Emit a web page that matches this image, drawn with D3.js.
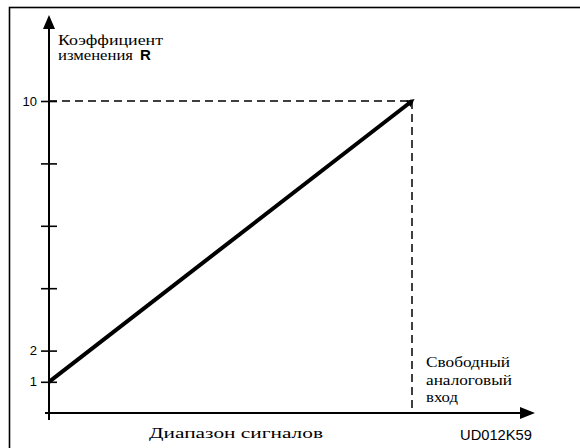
<!DOCTYPE html>
<html>
<head>
<meta charset="utf-8">
<script src="https://cdn.jsdelivr.net/npm/d3@7"></script>
<style>
  body { margin: 0; background: #fff; }
  svg { display: block; }
</style>
</head>
<body>
<div id="chart"></div>
<script>
// data
const signal = [0, 1];          // диапазон сигналов (отн.)
const ratio = [1, 10];          // коэффициент изменения R
const yTicks = [1, 2, 4, 6, 8, 10];
const yTickLabels = {1: "1", 2: "2", 10: "10"};

const width = 580, height = 448;
const serif = "'Liberation Serif', 'DejaVu Serif', serif";
const sans = "'Liberation Sans', Arial, sans-serif";

const svg = d3.select("#chart").append("svg")
  .attr("width", width)
  .attr("height", height);

// frame (right and bottom edges are cut off)
svg.append("rect")
  .attr("x", 9.5).attr("y", 7.5)
  .attr("width", 620).attr("height", 480)
  .attr("fill", "none").attr("stroke", "#000").attr("stroke-width", 1.6);

const x = d3.scaleLinear().domain([0, 1]).range([49, 412]);
const y = d3.scaleLinear().domain([0, 10]).range([413, 101]);

const defs = svg.append("defs");
defs.append("marker")
  .attr("id", "tip")
  .attr("viewBox", "0 0 10 10")
  .attr("refX", 6).attr("refY", 5)
  .attr("markerWidth", 2).attr("markerHeight", 2)
  .attr("markerUnits", "strokeWidth")
  .attr("orient", "auto")
  .append("path").attr("d", "M0,0L10,5L0,10z").attr("fill", "#000");

// dashed guides
svg.append("line")
  .attr("x1", x(0)).attr("x2", x(1))
  .attr("y1", y(10)).attr("y2", y(10))
  .attr("stroke", "#000").attr("stroke-width", 1.5)
  .attr("stroke-dasharray", "8,5");
svg.append("line")
  .attr("x1", x(1)).attr("x2", x(1))
  .attr("y1", y(10)).attr("y2", y(0))
  .attr("stroke", "#000").attr("stroke-width", 1.5)
  .attr("stroke-dasharray", "8,5");

// y axis
const yAxis = d3.axisLeft(y)
  .tickValues(yTicks)
  .tickSize(16)
  .tickFormat(d => yTickLabels[d] || "");
const gy = svg.append("g")
  .attr("transform", `translate(${x(0)},0)`)
  .call(yAxis);
gy.select(".domain").remove();
gy.selectAll(".tick line")
  .attr("x1", 8).attr("x2", -8)
  .attr("stroke", "#000").attr("stroke-width", 1.6);
gy.selectAll(".tick text")
  .attr("x", -12)
  .style("font-family", sans)
  .style("font-size", "13px")
  .attr("fill", "#000");

// axis lines with arrows
svg.append("line")
  .attr("x1", x(0)).attr("x2", x(0))
  .attr("y1", 420).attr("y2", 28)
  .attr("stroke", "#000").attr("stroke-width", 2);
svg.append("path")
  .attr("d", `M${x(0)},15L${x(0) - 6},29L${x(0) + 6},29Z`)
  .attr("fill", "#000");

svg.append("line")
  .attr("x1", 45).attr("x2", 522)
  .attr("y1", y(0)).attr("y2", y(0))
  .attr("stroke", "#000").attr("stroke-width", 2);
svg.append("path")
  .attr("d", `M535,${y(0)}L520,${y(0) - 6}L520,${y(0) + 6}Z`)
  .attr("fill", "#000");

// main characteristic
const line = d3.line()
  .x((d, i) => x(signal[i]))
  .y(d => y(d));
svg.append("path")
  .datum(ratio)
  .attr("d", line)
  .attr("fill", "none")
  .attr("stroke", "#000")
  .attr("stroke-width", 4)
  .attr("marker-end", "url(#tip)");

// labels
function label(txt, tx, ty, len, font, size, weight) {
  const t = svg.append("text")
    .attr("x", tx).attr("y", ty)
    .style("font-family", font)
    .style("font-size", size + "px")
    .style("font-weight", weight || "normal")
    .attr("fill", "#000")
    .text(txt);
  if (len) t.attr("textLength", len).attr("lengthAdjust", "spacingAndGlyphs");
  return t;
}

label("Коэффициент", 58, 45, 105, serif, 14);
label("изменения", 58, 60, 75, serif, 14);
label("R", 140, 60, null, sans, 15, "bold");

label("Диапазон сигналов", 149, 438, 174, serif, 15);

label("Свободный", 426, 367, 84, serif, 15);
label("аналоговый", 426, 385, 86, serif, 15);
label("вход", 426, 402, 32, serif, 15);

label("UD012K59", 460, 440, 72, sans, 14);
</script>
</body>
</html>
